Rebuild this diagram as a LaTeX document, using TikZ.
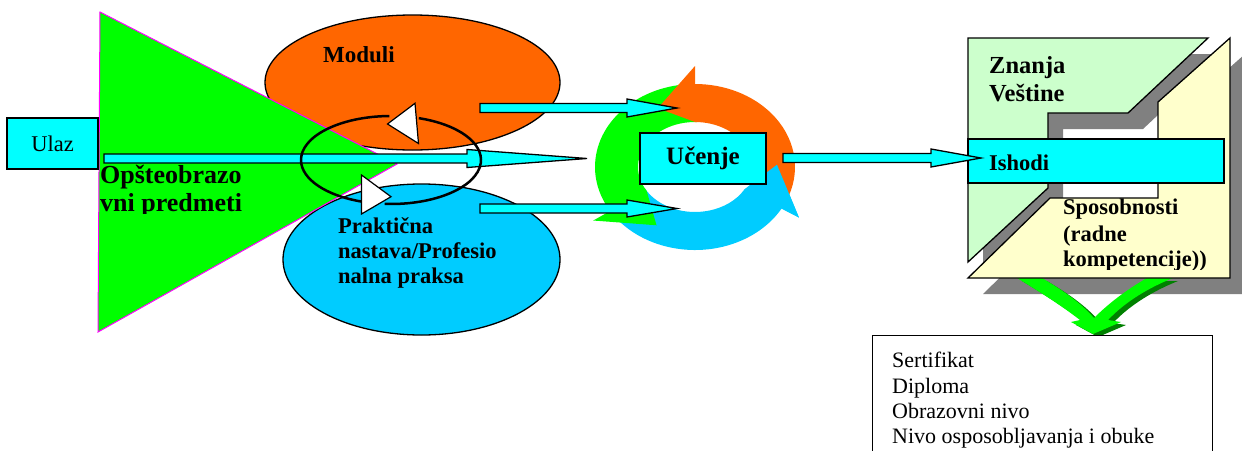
\documentclass[tikz,border=0pt]{standalone}
\usepackage{fontspec}
\setmainfont{Liberation Serif}
\usetikzlibrary{calc,shapes.geometric}
\definecolor{cCyan}{HTML}{00FFFF}
\definecolor{cGreen}{HTML}{00FF00}
\definecolor{cMag}{HTML}{FF00FF}
\definecolor{cOrange}{HTML}{FF6600}
\definecolor{cBlue}{HTML}{00CCFF}
\definecolor{cLGreen}{HTML}{CCFFCC}
\definecolor{cLYellow}{HTML}{FFFFCC}
\definecolor{cGray}{HTML}{808080}
\definecolor{cDGreen}{HTML}{008000}
% block arrow: start, tip, shaft half width, head half width, head length
\newcommand{\blkarrow}[5]{%
  \draw[blockarr] ($(#1)+(0,#3)$) -- ($(#2)+(-#5,#3)$) -- ($(#2)+(-#5,#4)$) -- (#2)
    -- ($(#2)+(-#5,-#4)$) -- ($(#2)+(-#5,-#3)$) -- ($(#1)+(0,-#3)$) -- cycle;}
% ring arrow: colour, start angle, head base angle, tip angle
\newcommand{\ringarr}[4]{%
  \fill[#1] (#2:100 and 83) arc[start angle=#2, end angle=#3, x radius=100, y radius=83]
    -- (#3:120 and 101) -- (#4:82 and 66) -- (#3:57 and 45)
    arc[start angle=#3, end angle=#2, x radius=57, y radius=45] -- cycle;}
\begin{document}
\begin{tikzpicture}[x=1pt,y=-1pt,
  box/.style={draw=black, line width=1.5, fill=cCyan, inner sep=0pt},
  blockarr/.style={draw=black, line width=1.3, fill=cCyan, line join=miter},
  ell/.style={ellipse, draw=black, line width=1.3, inner sep=0pt},
  wtri/.style={draw=black, line width=1.2, fill=white, line join=miter},
  lblB/.style={inner sep=0pt, anchor=base west, font=\bfseries\fontsize{#1}{#1}\selectfont},
  lblB/.default=22.5,
  lblR/.style={inner sep=0pt, anchor=base west, font=\fontsize{#1}{#1}\selectfont},
  lblR/.default=22
]
\useasboundingbox (0,0) rectangle (1242,450);
\clip (0,0) rectangle (1242,450);

% ---- left part ----
\node[ell, fill=cOrange, minimum width=295, minimum height=135] (modell) at (412.5,82.5) {};
\node[ell, fill=cBlue, minimum width=277, minimum height=151] (praell) at (421.5,259.5) {};

\coordinate (t1) at (100,12);
\coordinate (t2) at (397,164);
\coordinate (t3) at (98,332);
\draw[draw=cMag, line width=1, fill=cGreen] (t1) -- (t2) -- (t3) -- cycle;

\coordinate (a1s) at (104,158.5);
\coordinate (a1t) at (587,158.5);
\blkarrow{a1s}{a1t}{4.5}{9}{120}

\begin{scope}[shift={(391,160)}, yscale=-1]
  \draw[line width=2.5] (91:90 and 44) arc[start angle=91, end angle=251, x radius=90, y radius=44];
  \draw[line width=2.5] (266:90 and 44) arc[start angle=266, end angle=432, x radius=90, y radius=44];
\end{scope}
\draw[wtri] (387.5,124) -- (415,103.3) -- (418.5,143.5) -- cycle;
\draw[wtri] (361.5,175) -- (361.5,214) -- (391,196.7) -- cycle;

\node[lblB=23] (moduli) at (323,62) {Moduli};
\begin{scope}
  \clip (95,150) rectangle (300,213);
  \node[lblB=26] (op1) at (100,183) {Opšteobrazo};
  \node[lblB=26] (op2) at (100,211) {vni predmeti};
\end{scope}
\node[lblB] (pr1) at (338,233) {Praktična};
\node[lblB] (pr2) at (338,258) {nastava/Profesio};
\node[lblB] (pr3) at (338,283) {nalna praksa};

% ---- learning cycle ----
\begin{scope}[shift={(695,167)}, yscale=-1]
  \ringarr{cBlue}{208}{330}{2}
  \ringarr{cGreen}{88}{212}{242}
  \ringarr{cOrange}{-20}{90}{117}
  \fill[cBlue] (330:120 and 101) -- (2:82 and 66) -- (330:57 and 45) -- cycle;
\end{scope}
\node[box, minimum width=126, minimum height=51, font=\bfseries\fontsize{25}{25}\selectfont] (ucenje) at (703,158.5) {Učenje};

\coordinate (a2s) at (480,108);
\coordinate (a2t) at (677,108);
\blkarrow{a2s}{a2t}{4.5}{9}{50}
\coordinate (a3s) at (480,208.5);
\coordinate (a3t) at (677,208.5);
\blkarrow{a3s}{a3t}{4.5}{8.5}{50}

% ---- outcomes figure ----
\begin{scope}[shift={(15,16)}]
  \fill[cGray] (968,38) -- (1208,38) -- (1128,113) -- (1048,113) -- (1048,188) -- (968,262) -- cycle;
  \fill[cGray] (968,278) -- (1050,198) -- (1158,198) -- (1158,102) -- (1230,38) -- (1230,278) -- cycle;
\end{scope}
\begin{scope}[shift={(5,3)}]
  \fill[cDGreen] (1017,278) .. controls (1040,292) and (1062,306) .. (1080,320) -- (1071,322) -- (1093,334)
    -- (1121,322) -- (1108,320) .. controls (1125,302) and (1148,288) .. (1173,278) -- (1147,278)
    .. controls (1126,290) and (1108,304) .. (1094,318) .. controls (1080,302) and (1062,290) .. (1042,278) -- cycle;
\end{scope}
\fill[cGreen] (1017,278) .. controls (1040,292) and (1062,306) .. (1080,320) -- (1071,322) -- (1093,334)
    -- (1121,322) -- (1108,320) .. controls (1125,302) and (1148,288) .. (1173,278) -- (1147,278)
    .. controls (1126,290) and (1108,304) .. (1094,318) .. controls (1080,302) and (1062,290) .. (1042,278) -- cycle;
\draw[line width=1.3, fill=cLGreen, line join=miter] (968,38) -- (1208,38) -- (1128,113) -- (1048,113) -- (1048,188) -- (968,262) -- cycle;
\draw[line width=1.3, fill=cLYellow, line join=miter] (968,278) -- (1050,198) -- (1158,198) -- (1158,102) -- (1230,38) -- (1230,278) -- cycle;

\node[box, minimum width=256, minimum height=44] (ishodi) at (1096,161) {};
\node[lblB] (ishtxt) at (989,170) {Ishodi};
\node[lblB=24.5] (zn1) at (989,73) {Znanja};
\node[lblB=24.5] (zn2) at (989,101) {Veštine};
\node[lblB] (sp1) at (1063,214) {Sposobnosti};
\node[lblB] (sp2) at (1063,241.5) {(radne};
\begin{scope}
  \clip (1055,245) rectangle (1229,269);
  \node[lblB] (sp3) at (1063,266.5) {kompetencije))};
\end{scope}

\coordinate (a4s) at (783,158);
\coordinate (a4t) at (981,158);
\blkarrow{a4s}{a4t}{4.5}{9}{50}

\node[box, minimum width=91, minimum height=51, font=\fontsize{22.5}{22.5}\selectfont] (ulaz) at (52.5,143.5) {Ulaz};

% ---- result box ----
\node[draw=black, line width=1.3, fill=white, minimum width=340, minimum height=130, anchor=north west, inner sep=0pt] (outbox) at (872,335) {};
\node[lblR] (r1) at (892,367) {Sertifikat};
\node[lblR] (r2) at (892,393) {Diploma};
\node[lblR] (r3) at (892,418) {Obrazovni nivo};
\node[lblR] (r4) at (892,443.5) {Nivo osposobljavanja i obuke};
\end{tikzpicture}
\end{document}
